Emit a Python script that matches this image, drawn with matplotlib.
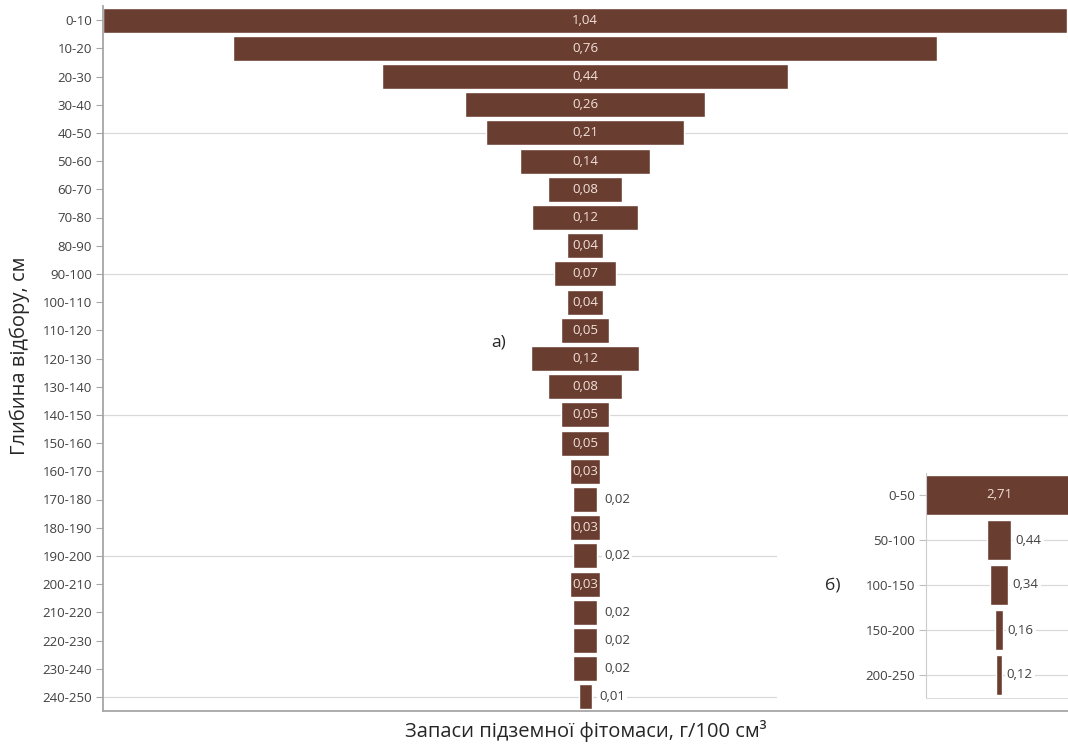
import matplotlib
matplotlib.use('Agg')
import matplotlib.pyplot as plt
import numpy as np

plt.rcParams['font.family'] = ['Open Sans', 'DejaVu Sans']

# дані: основна діаграма (а)
depths = ['0-10', '10-20', '20-30', '30-40', '40-50', '50-60', '60-70', '70-80',
          '80-90', '90-100', '100-110', '110-120', '120-130', '130-140', '140-150',
          '150-160', '160-170', '170-180', '180-190', '190-200', '200-210',
          '210-220', '220-230', '230-240', '240-250']
# значення оцінені за шириною смуг
values = [1.04, 0.76, 0.438, 0.259, 0.214, 0.140, 0.079, 0.114, 0.038, 0.067,
          0.039, 0.052, 0.117, 0.079, 0.052, 0.052, 0.032, 0.025, 0.032, 0.025,
          0.032, 0.025, 0.025, 0.025, 0.014]
value_labels = ['1,04', '0,76', '0,44', '0,26', '0,21', '0,14', '0,08', '0,12',
                '0,04', '0,07', '0,04', '0,05', '0,12', '0,08', '0,05', '0,05',
                '0,03', '0,02', '0,03', '0,02', '0,03', '0,02', '0,02', '0,02',
                '0,01']

# дані: вставка (б)
depths_b = ['0-50', '50-100', '100-150', '150-200', '200-250']
values_b = [2.71, 0.44, 0.33, 0.16, 0.12]
value_labels_b = ['2,71', '0,44', '0,34', '0,16', '0,12']

bar_color = '#6a3d31'
in_color = '#f3e2da'
out_color = '#404040'
grid_color = '#d9d9d9'

W, H = 1068, 747
fig = plt.figure(figsize=(W / 100, H / 100), dpi=100)


def fx(px):
    return px / W


def fy(py):
    return 1 - py / H


# основна вісь
ax = fig.add_axes([fx(103), fy(711), 1 - fx(103), fy(6) - fy(711)])
vals = np.array(values)
pos = np.arange(len(depths))
ax.barh(pos, vals, left=-vals / 2, height=0.88, color=bar_color,
        edgecolor='white', linewidth=1, zorder=2)
ax.set_xlim(-0.520, 0.521)
ax.set_ylim(len(depths) - 0.5, -0.5)
ax.set_yticks(pos)
ax.set_yticklabels(depths, fontsize=9.5, color=out_color)
ax.set_xticks([])
ax.tick_params(axis='y', length=5, color='#a6a6a6', pad=3)
for y in [4, 9, 14, 19, 24]:
    ax.axhline(y, color=grid_color, lw=0.9, zorder=0)
for s in ['top', 'right']:
    ax.spines[s].set_visible(False)
for s in ['left', 'bottom']:
    ax.spines[s].set_color('#a6a6a6')
    ax.spines[s].set_linewidth(1.3)

for p, v, lab in zip(pos, vals, value_labels):
    if v >= 0.03:
        ax.text(0, p, lab, ha='center', va='center', fontsize=9.5,
                color=in_color, zorder=3)
    else:
        ax.text(v / 2 + 0.008, p, lab, ha='left', va='center', fontsize=9.5,
                color=out_color, zorder=3,
                bbox=dict(facecolor='white', edgecolor='none', pad=1.5))

ax.text(-0.093, 11.45, 'а)', ha='center', va='center', fontsize=12.5,
        color='#262626')

# білий фон під вставкою
bg = fig.add_axes([fx(777), fy(703), 1 - fx(777), fy(462) - fy(703)])
bg.set_xticks([])
bg.set_yticks([])
for s in bg.spines.values():
    s.set_visible(False)

# вставка (б)
ins = fig.add_axes([fx(926), fy(697.5), 1 - fx(926), fy(472.5) - fy(697.5)])
vb = np.array(values_b)
pb = np.arange(len(depths_b))
ins.barh(pb, vb, left=-vb / 2, height=0.88, color=bar_color,
         edgecolor='white', linewidth=1, zorder=2)
ins.set_xlim(-1.321, 1.248)
ins.set_ylim(len(depths_b) - 0.5, -0.5)
ins.set_yticks(pb)
ins.set_yticklabels(depths_b, fontsize=9.5, color=out_color)
ins.set_xticks([])
ins.tick_params(axis='y', length=5, color='#bfbfbf', pad=3)
for y in pb:
    ins.axhline(y, color=grid_color, lw=0.9, zorder=0)
for s in ['top', 'right']:
    ins.spines[s].set_visible(False)
ins.spines['left'].set_color('#cccccc')
ins.spines['bottom'].set_color('#dddddd')

for p, v, lab in zip(pb, vb, value_labels_b):
    if v > 1:
        ins.text(0, p, lab, ha='center', va='center', fontsize=9.5,
                 color=in_color, zorder=3)
    else:
        ins.text(v / 2 + 0.08, p, lab, ha='left', va='center', fontsize=9.5,
                 color=out_color, zorder=3,
                 bbox=dict(facecolor='white', edgecolor='none', pad=1.5))

fig.text(fx(833), fy(585), 'б)', ha='center', va='center', fontsize=12.5,
         color='#262626')

# підписи осей
fig.text(fx(586), fy(731), 'Запаси підземної фітомаси, г/100 см³',
         ha='center', va='center', fontsize=14.5, color='#262626')
fig.text(fx(20), fy(356), 'Глибина відбору, см', ha='center', va='center',
         rotation=90, fontsize=14.5, color='#262626')

fig.savefig('out.png', dpi=100)
